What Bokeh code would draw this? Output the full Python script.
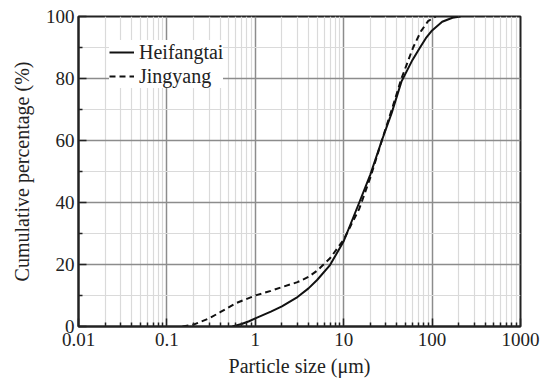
from bokeh.plotting import figure
from bokeh.models import FixedTicker, Range1d, Legend, LegendItem
from bokeh.embed import file_html
from bokeh.resources import INLINE

# Data
heif_size = [0.55, 0.7, 0.85, 1, 1.5, 2, 3, 4, 5, 7, 10, 15, 20, 27, 35, 45, 60, 73, 85, 100, 130, 170, 210]
heif_pct = [0, 0.8, 1.7, 2.6, 4.8, 6.5, 9.5, 12.3, 15, 19.8, 27.5, 40, 49, 60, 69, 79, 86, 90, 93, 95.5, 98.3, 99.6, 100]
jing_size = [0.15, 0.2, 0.3, 0.4, 0.6, 1, 1.5, 2, 3, 4, 5, 7, 10, 15, 20, 27, 35, 45, 61, 75, 90, 110]
jing_pct = [0, 0.6, 2.6, 4.6, 7.5, 10, 11.5, 12.7, 14.3, 16, 18, 22, 28, 38, 48, 60, 70, 80, 90, 95.3, 98.5, 100]

x_ticks = [0.01, 0.1, 1, 10, 100, 1000]
x_tick_labels = ["0.01", "0.1", "1", "10", "100", "1000"]
y_ticks = [0, 20, 40, 60, 80, 100]

FONT = "Liberation Serif"

x_minor = []
for dec in [0.01, 0.1, 1, 10, 100]:
    for k in range(2, 10):
        x_minor.append(round(dec * k, 6))
y_minor = [10, 30, 50, 70, 90]

p = figure(width=547, height=385, x_axis_type="log",
           x_range=Range1d(0.01, 1000), y_range=Range1d(0, 100),
           output_backend="svg", toolbar_location=None,
           min_border_left=78, min_border_right=27, min_border_top=16, min_border_bottom=59)
p.background_fill_color = "white"
p.border_fill_color = "white"
p.outline_line_color = "#222222"
p.outline_line_width = 2

p.xaxis.ticker = FixedTicker(ticks=x_ticks, minor_ticks=x_minor)
p.yaxis.ticker = FixedTicker(ticks=y_ticks, minor_ticks=y_minor)
p.xaxis.major_label_overrides = {v: s for v, s in zip(x_ticks, x_tick_labels)}

for ax in [p.xaxis[0], p.yaxis[0]]:
    ax.axis_line_color = "#222222"
    ax.axis_line_width = 2
    ax.major_tick_in = 8
    ax.major_tick_out = 0
    ax.minor_tick_in = 4
    ax.minor_tick_out = 0
    ax.major_tick_line_color = "#222222"
    ax.minor_tick_line_color = "#222222"
    ax.major_tick_line_width = 1.5
    ax.minor_tick_line_width = 1.5
    ax.major_label_text_font = FONT
    ax.major_label_text_font_size = "19px"
    ax.major_label_text_color = "#222222"
    ax.axis_label_text_font = FONT
    ax.axis_label_text_font_size = "20px"
    ax.axis_label_text_font_style = "normal"
    ax.axis_label_text_color = "#222222"

p.xaxis.axis_label = "Particle size (μm)"
p.yaxis.axis_label = "Cumulative percentage (%)"
p.xaxis.major_label_standoff = 6
p.yaxis.major_label_standoff = 4
p.xaxis.axis_label_standoff = 6
p.yaxis.axis_label_standoff = 10

for g in [p.xgrid[0], p.ygrid[0]]:
    g.grid_line_color = "#8c8c8c"
    g.grid_line_width = 1.5
    g.minor_grid_line_color = "#dadada"
    g.minor_grid_line_width = 1.2

r1 = p.line(heif_size, heif_pct, line_color="#111111", line_width=2)
r2 = p.line(jing_size, jing_pct, line_color="#111111", line_width=2, line_dash="6 4")

legend = Legend(items=[LegendItem(label="Heifangtai", renderers=[r1]),
                       LegendItem(label="Jingyang", renderers=[r2])],
                location=(31, 238))
legend.margin = 0
legend.padding = 6
legend.spacing = 0
legend.glyph_width = 25
legend.glyph_height = 24
legend.label_height = 24
legend.label_standoff = 5
legend.label_text_font = FONT
legend.label_text_font_size = "20px"
legend.label_text_color = "#222222"
legend.background_fill_color = "white"
legend.background_fill_alpha = 1
legend.border_line_color = None
p.add_layout(legend, "center")

open("out.html", "w").write(file_html(p, INLINE))
